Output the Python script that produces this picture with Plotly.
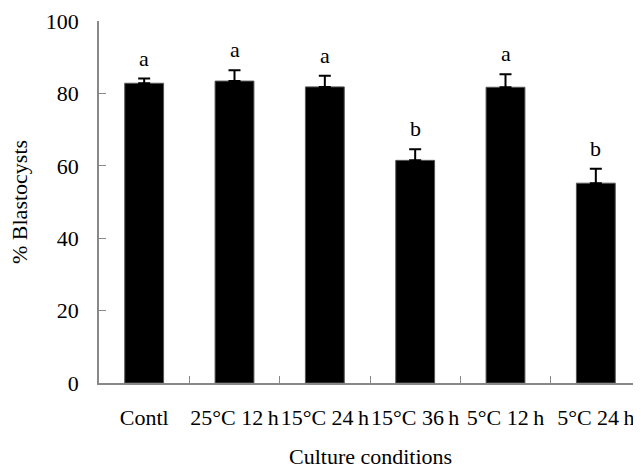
import plotly.graph_objects as go

categories = ["Contl", "25°C 12\u2009h", "15°C 24\u2009h", "15°C 36\u2009h", "5°C 12\u2009h", "5°C 24\u2009h"]
values = [82.8, 83.4, 81.8, 61.5, 81.7, 55.2]
errors = [1.3, 3.0, 3.1, 3.1, 3.6, 4.0]
letters = ["a", "a", "a", "b", "a", "b"]
y_ticks = [0, 20, 40, 60, 80, 100]

FONT = "Liberation Serif"
FS = 22

fig = go.Figure()
fig.add_trace(go.Bar(
    x=categories, y=values,
    marker=dict(color="black", line=dict(color="#555555", width=1)),
    error_y=dict(type="data", array=errors, arrayminus=[0]*len(errors), symmetric=False,
                 color="black", thickness=2, width=6),
    width=0.43,
))

for c, v, e, l in zip(categories, values, errors, letters):
    fig.add_annotation(x=c, y=v + e, text=l, showarrow=False, yanchor="bottom", yshift=6,
                       font=dict(family=FONT, size=FS, color="black"))

fig.add_annotation(xref="paper", yref="paper", x=0.5, y=-0.204, text="Culture conditions",
                   showarrow=False, xanchor="center", yanchor="middle",
                   font=dict(family=FONT, size=FS, color="black"))
fig.add_annotation(xref="paper", yref="paper", x=0, xshift=-80, y=0.5, text="% Blastocysts",
                   textangle=-90, showarrow=False, xanchor="center", yanchor="middle",
                   font=dict(family=FONT, size=FS, color="black"))

fig.update_layout(
    width=641, height=470,
    margin=dict(l=91, r=8, t=13, b=95),
    plot_bgcolor="white", paper_bgcolor="white",
    showlegend=False,
    font=dict(family=FONT, size=FS, color="black"),
    xaxis=dict(showline=True, linecolor="#888888", linewidth=1.5, ticks="inside", tickson="boundaries",
               ticklen=7, tickcolor="#888888", showgrid=False, ticklabelstandoff=14, tickangle=0,
               automargin=False,
               tickfont=dict(family=FONT, size=FS, color="black")),
    yaxis=dict(range=[0, 100], tickvals=y_ticks, showline=True, linecolor="#888888", linewidth=1.5,
               ticks="inside", ticklen=7, tickcolor="#888888", showgrid=False, zeroline=False,
               automargin=False,
               ticklabelstandoff=14, tickfont=dict(family=FONT, size=FS, color="black")),
)

fig.write_html("out.html")
